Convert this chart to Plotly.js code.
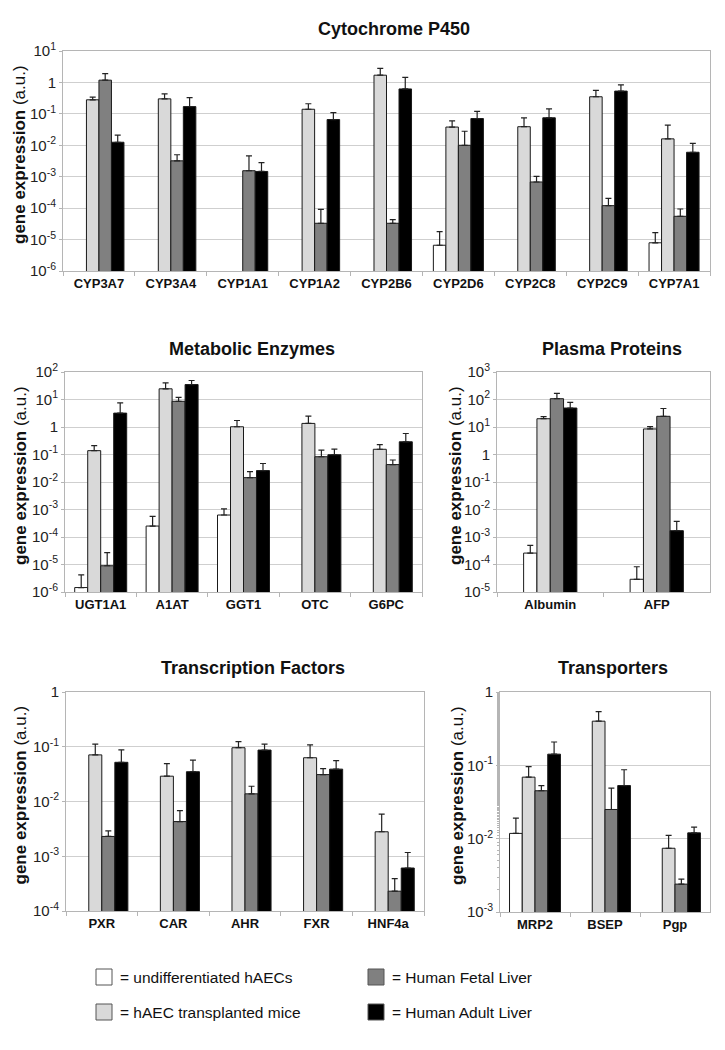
<!DOCTYPE html>
<html><head><meta charset="utf-8">
<script src="https://cdn.plot.ly/plotly-3.0.1.min.js"></script>
<style>html,body{margin:0;padding:0;background:#fff}#chart{width:725px;height:1050px}</style>
</head><body><div id="chart"></div>
<script>
// ---------- DATA ----------
const seriesNames = ['undifferentiated hAECs','hAEC transplanted mice','Human Fetal Liver','Human Adult Liver'];

// Cytochrome P450
const cypCats = ['CYP3A7','CYP3A4','CYP1A1','CYP1A2','CYP2B6','CYP2D6','CYP2C8','CYP2C9','CYP7A1'];
const cypUndiff    = [null,null,null,null,null,6.6e-6,null,null,7.9e-6];
const cypUndiffTop = [null,null,null,null,null,1.8e-5,null,null,1.66e-5];
const cypTransp    = [0.28,0.30,null,0.14,1.7,0.038,0.039,0.35,0.016];
const cypTranspTop = [0.34,0.43,null,0.21,2.8,0.060,0.075,0.56,0.044];
const cypFetal     = [1.18,0.0032,0.00155,3.3e-5,3.3e-5,0.0100,6.8e-4,1.2e-4,5.5e-5];
const cypFetalTop  = [1.9,0.0050,0.0046,9.2e-5,4.3e-5,0.028,1.02e-3,2.05e-4,9.4e-5];
const cypAdult     = [0.0125,0.17,0.00147,0.066,0.62,0.071,0.075,0.53,0.0060];
const cypAdultTop  = [0.021,0.33,0.0028,0.11,1.45,0.12,0.145,0.84,0.0115];

// Metabolic Enzymes
const metCats = ['UGT1A1','A1AT','GGT1','OTC','G6PC'];
const metUndiff    = [1.45e-6,2.5e-4,6.3e-4,null,null];
const metUndiffTop = [4.2e-6,5.6e-4,1.06e-3,null,null];
const metTransp    = [0.138,24.5,1.02,1.35,0.155];
const metTranspTop = [0.21,40,1.72,2.5,0.23];
const metFetal     = [9.0e-6,8.6,0.0144,0.083,0.043];
const metFetalTop  = [2.7e-5,12,0.024,0.145,0.063];
const metAdult     = [3.2,35,0.026,0.098,0.29];
const metAdultTop  = [7.6,49,0.047,0.157,0.58];

// Plasma Proteins
const plasCats = ['Albumin','AFP'];
const plasUndiff    = [2.6e-4,2.9e-5];
const plasUndiffTop = [5.0e-4,8.3e-5];
const plasTransp    = [20,8.5];
const plasTranspTop = [24,10.4];
const plasFetal     = [107,24.5];
const plasFetalTop  = [166,47];
const plasAdult     = [49,1.7e-3];
const plasAdultTop  = [78,3.7e-3];

// Transcription Factors
const tfCats = ['PXR','CAR','AHR','FXR','HNF4a'];
const tfUndiff    = [null,null,null,null,null];
const tfUndiffTop = [null,null,null,null,null];
const tfTransp    = [0.071,0.029,0.096,0.063,0.0028];
const tfTranspTop = [0.112,0.049,0.124,0.108,0.0059];
const tfFetal     = [0.0023,0.0043,0.0138,0.031,2.3e-4];
const tfFetalTop  = [0.0029,0.0068,0.019,0.040,3.9e-4];
const tfAdult     = [0.052,0.035,0.087,0.039,6.1e-4];
const tfAdultTop  = [0.088,0.057,0.112,0.056,1.17e-3];

// Transporters
const trCats = ['MRP2','BSEP','Pgp'];
const trUndiff    = [0.0118,null,null];
const trUndiffTop = [0.019,null,null];
const trTransp    = [0.069,0.40,0.0074];
const trTranspTop = [0.096,0.54,0.0111];
const trFetal     = [0.045,0.025,0.0024];
const trFetalTop  = [0.053,0.049,0.0028];
const trAdult     = [0.142,0.053,0.012];
const trAdultTop  = [0.208,0.087,0.0144];

// ---------- STYLE / LAYOUT ----------
const W = 725, H = 1050;
const fx = p => p / W, fy = p => 1 - p / H;
const colors = ['#ffffff','#d9d9d9','#808080','#000000'];
const FONT = 'Liberation Sans, Arial, Helvetica, sans-serif';

const panels = [
  {title:'Cytochrome P450', cats:cypCats, vals:[cypUndiff,cypTransp,cypFetal,cypAdult],
   tops:[cypUndiffTop,cypTranspTop,cypFetalTop,cypAdultTop],
   box:[63,710,51,271], yr:[-6,1], bw:0.174, titleY:29, ytX:19, minor:false},
  {title:'Metabolic Enzymes', cats:metCats, vals:[metUndiff,metTransp,metFetal,metAdult],
   tops:[metUndiffTop,metTranspTop,metFetalTop,metAdultTop],
   box:[65,422,372,592], yr:[-6,2], bw:0.182, titleY:349, ytX:20, minor:false},
  {title:'Plasma Proteins', cats:plasCats, vals:[plasUndiff,plasTransp,plasFetal,plasAdult],
   tops:[plasUndiffTop,plasTranspTop,plasFetalTop,plasAdultTop],
   box:[497,710,372,592], yr:[-5,3], bw:0.125, titleY:349, ytX:455, minor:false},
  {title:'Transcription Factors', cats:tfCats, vals:[tfUndiff,tfTransp,tfFetal,tfAdult],
   tops:[tfUndiffTop,tfTranspTop,tfFetalTop,tfAdultTop],
   box:[66,424,692,911], yr:[-4,0], bw:0.182, titleY:668, ytX:20, minor:false},
  {title:'Transporters', cats:trCats, vals:[trUndiff,trTransp,trFetal,trAdult],
   tops:[trUndiffTop,trTranspTop,trFetalTop,trAdultTop],
   box:[500,710,692,912], yr:[-3,0], bw:0.182, titleY:668, ytX:457, minor:true}
];

const traces = [];
const layout = {
  width: W, height: H,
  margin: {l:0, r:0, t:0, b:0},
  paper_bgcolor: '#ffffff', plot_bgcolor: '#ffffff',
  showlegend: false,
  barmode: 'overlay',
  font: {family: FONT, color: '#111', size: 14},
  annotations: [], shapes: []
};

panels.forEach((p, k) => {
  const n = k === 0 ? '' : String(k + 1);
  const xa = 'x' + n, ya = 'y' + n;
  for (let s = 0; s < 4; s++) {
    const plus = p.vals[s].map((v, i) => (v == null || p.tops[s][i] == null) ? null : p.tops[s][i] - v);
    traces.push({
      type: 'bar', name: seriesNames[s], x: p.cats, y: p.vals[s],
      xaxis: xa, yaxis: ya,
      width: p.bw, offset: -2 * p.bw + s * p.bw,
      marker: {color: colors[s], line: {color: '#1a1a1a', width: 1}},
      error_y: {type: 'data', symmetric: false, array: plus, arrayminus: p.vals[s].map(() => 0),
                color: '#222', thickness: 1.2, width: 3},
      hoverinfo: 'x+y+name'
    });
  }
  const tv = [], tt = [];
  for (let e = p.yr[0]; e <= p.yr[1]; e++) {
    tv.push(Math.pow(10, e));
    tt.push(e === 0 ? '1' : '10<sup>' + e + '</sup>');
  }
  layout['xaxis' + n] = {
    domain: [fx(p.box[0]), fx(p.box[1])], anchor: ya,
    type: 'category', range: [-0.5, p.cats.length - 0.5],
    showline: true, linecolor: '#b5b5b5', linewidth: 1, mirror: true,
    ticks: 'outside', tickson: 'boundaries', ticklen: 4, tickcolor: '#b5b5b5',
    tickfont: {family: FONT, size: 13, color: '#111', weight: 'bold'},
    showgrid: false, zeroline: false, fixedrange: true
  };
  const yax = {
    domain: [fy(p.box[3]), fy(p.box[2])], anchor: xa,
    type: 'log', range: p.yr, tickmode: 'array', tickvals: tv, ticktext: tt,
    showline: true, linecolor: '#b5b5b5', linewidth: 1, mirror: true,
    ticks: 'outside', ticklen: 3, tickcolor: '#b5b5b5',
    tickfont: {family: FONT, size: 15, color: '#222'},
    showgrid: true, gridcolor: '#cfcfcf', gridwidth: 1, zeroline: false, fixedrange: true
  };
  if (p.minor) yax.minor = {ticks: 'outside', ticklen: 2, tickcolor: '#b5b5b5', showgrid: false};
  layout['yaxis' + n] = yax;

  layout.annotations.push({
    xref: 'paper', yref: 'paper', x: fx((p.box[0] + p.box[1]) / 2 + 8), y: fy(p.titleY),
    text: '<b>' + p.title + '</b>', showarrow: false, xanchor: 'center', yanchor: 'middle',
    font: {family: FONT, size: 18, color: '#111'}
  });
  layout.annotations.push({
    xref: 'paper', yref: 'paper', x: fx(p.ytX), y: fy((p.box[2] + p.box[3]) / 2 - 6),
    text: '<b>gene expression</b> (a.u.)', textangle: -90, showarrow: false,
    xanchor: 'center', yanchor: 'middle',
    font: {family: FONT, size: 17, color: '#111'}
  });
});

// Legend (drawn as boxes + text)
const legItems = [
  {s:0, bx:96, by:969}, {s:1, bx:96, by:1004},
  {s:2, bx:368, by:969}, {s:3, bx:368, by:1004}
];
legItems.forEach(it => {
  layout.shapes.push({
    type: 'rect', xref: 'paper', yref: 'paper',
    x0: fx(it.bx), x1: fx(it.bx + 16), y0: fy(it.by + 16), y1: fy(it.by),
    fillcolor: colors[it.s], line: {color: '#555', width: 1}
  });
  layout.annotations.push({
    xref: 'paper', yref: 'paper', x: fx(it.bx + 22), y: fy(it.by + 8),
    text: '= ' + seriesNames[it.s], showarrow: false, xanchor: 'left', yanchor: 'middle',
    font: {family: FONT, size: 15.5, color: '#111'}
  });
});

Plotly.newPlot('chart', traces, layout, {displayModeBar: false, staticPlot: true});
</script>
</body></html>
